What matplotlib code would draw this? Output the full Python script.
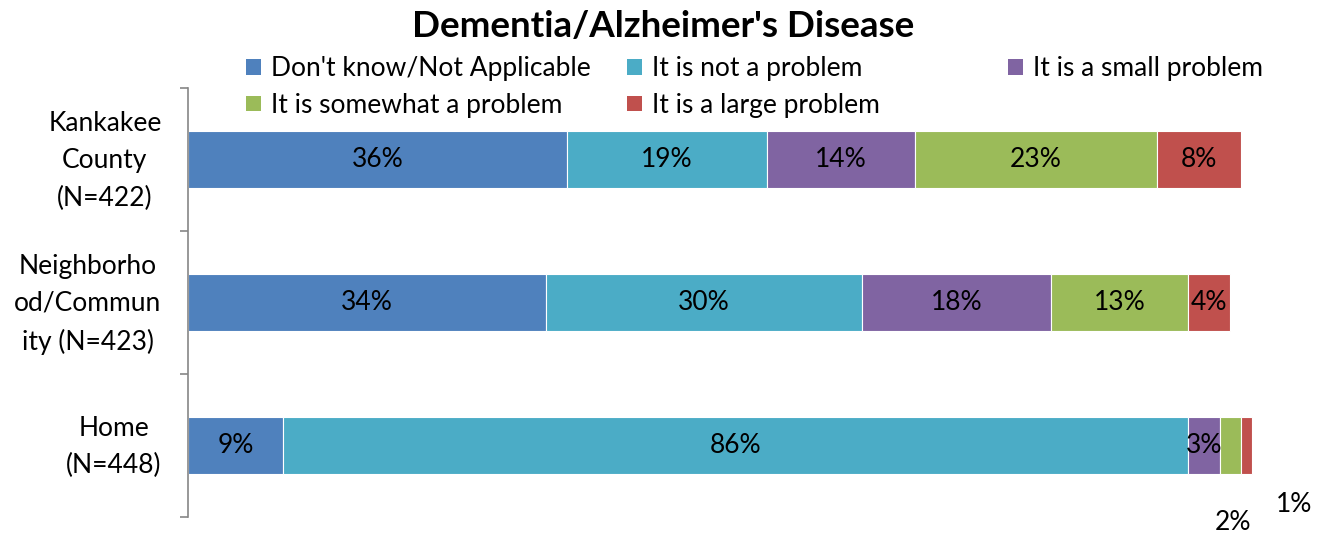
import matplotlib

matplotlib.use("Agg")
import matplotlib.pyplot as plt
from matplotlib.patches import Patch
from matplotlib.transforms import ScaledTranslation

plt.rcParams["font.family"] = ["Lato", "DejaVu Sans"]

# ── 数据 ──────────────────────────────────────────────────────────────────────
TITLE = "Dementia/Alzheimer's Disease"
CATEGORIES = [
    "Kankakee\nCounty\n(N=422)",
    "Neighborho\nod/Commun\nity (N=423)",
    "Home\n(N=448)",
]
SERIES = [
    "Don't know/Not Applicable",
    "It is not a problem",
    "It is a small problem",
    "It is somewhat a problem",
    "It is a large problem",
]
DONT_KNOW = [36, 34, 9]
NOT_PROBLEM = [19, 30, 86]
SMALL = [14, 18, 3]
SOMEWHAT = [23, 13, 2]
LARGE = [8, 4, 1]

COLORS = ["#4F81BD", "#4BACC6", "#8064A2", "#9BBB59", "#C0504D"]
FS = 19

# Home 行里过窄的段，标签挪到条外
OUTSIDE = {(2, 3): (99.2, 2.535), (2, 4): (105.0, 2.41)}

# 图例按列排布：每列一个 legend，列间距相等
LEGEND_COLUMNS = [[0, 3], [1, 4], [2]]
LEGEND_X = [246, 627, 1008]


def main() -> None:
    fig = plt.figure(figsize=(13.26, 5.33), dpi=100)
    ax = fig.add_axes([188 / 1326, 1 - 517 / 533, (1241 - 188) / 1326, 429 / 533])

    values = [DONT_KNOW, NOT_PROBLEM, SMALL, SOMEWHAT, LARGE]
    y = list(range(len(CATEGORIES)))
    left = [0.0] * len(CATEGORIES)
    for s, (vals, color) in enumerate(zip(values, COLORS)):
        bars = ax.barh(y, vals, left=left, height=0.4, color=color,
                       edgecolor="white", linewidth=0.8, clip_on=False)
        for i, (bar, v) in enumerate(zip(bars, vals)):
            if (i, s) in OUTSIDE:
                tx, ty = OUTSIDE[(i, s)]
                ax.text(tx, ty, f"{v}%", ha="center", va="center",
                        fontsize=FS, clip_on=False)
            else:
                ax.text(left[i] + v / 2, i, f"{v}%", ha="center", va="center",
                        fontsize=FS)
        left = [l + v for l, v in zip(left, vals)]

    ax.set_xlim(0, 100)
    ax.set_ylim(2.5, -0.5)
    ax.xaxis.set_visible(False)
    for side in ("top", "right", "bottom"):
        ax.spines[side].set_visible(False)
    ax.spines["left"].set_color("#868686")
    ax.spines["left"].set_linewidth(1.2)

    ax.set_yticks(y)
    ax.set_yticklabels(CATEGORIES, fontsize=FS, multialignment="center",
                       linespacing=1.6)
    ax.tick_params(axis="y", which="major", length=0, pad=19)
    shift = ScaledTranslation(0, 0.07, fig.dpi_scale_trans)
    for lbl in ax.get_yticklabels():
        lbl.set_transform(lbl.get_transform() + shift)
    ax.set_yticks([-0.5, 0.5, 1.5, 2.5], minor=True)
    ax.tick_params(axis="y", which="minor", length=6, width=1.2,
                   color="#868686", direction="out")

    fig.suptitle(TITLE, fontsize=26.5, fontweight="bold", x=0.5, y=0.982)

    handles = [Patch(facecolor=c, edgecolor="none") for c in COLORS]
    for col, x0 in zip(LEGEND_COLUMNS, LEGEND_X):
        fig.legend([handles[k] for k in col], [SERIES[k] for k in col],
                   loc="upper left", bbox_to_anchor=(x0 / 1326, 1 - 56 / 533),
                   frameon=False, fontsize=FS,
                   handlelength=0.55, handleheight=0.55, handletextpad=0.4,
                   labelspacing=0.45, borderaxespad=0, borderpad=0)

    fig.savefig("out.png", dpi=100)
    plt.close(fig)


if __name__ == "__main__":
    main()
